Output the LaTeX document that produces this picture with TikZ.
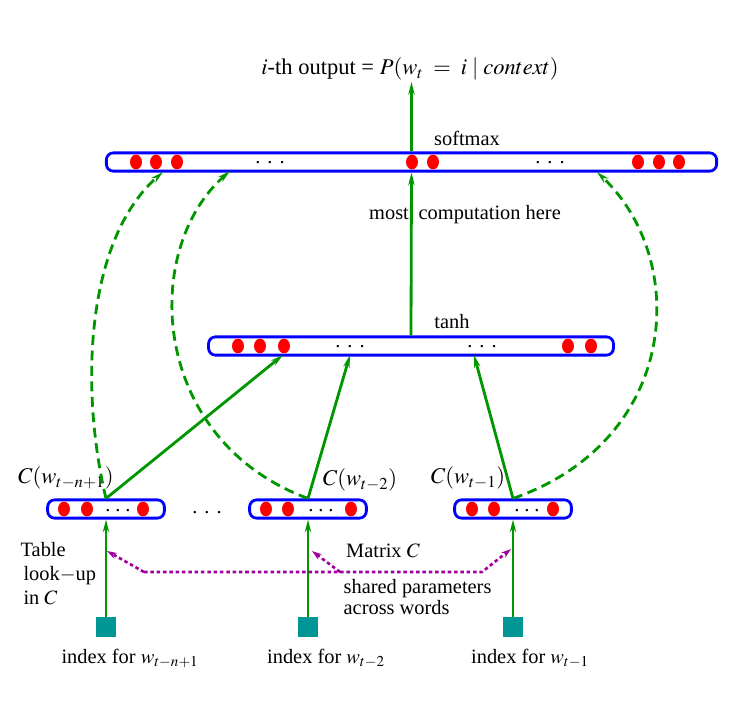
\documentclass[tikz,border=0pt]{standalone}
\usepackage{mathptmx}
\usepackage{fontspec}
\setmainfont{Liberation Serif}
\usetikzlibrary{
    arrows.meta,
    shapes.geometric
}
\definecolor{nnblue}{RGB}{0,0,255}
\definecolor{nnred}{RGB}{255,0,0}
\definecolor{nngreen}{RGB}{0,150,0}
\definecolor{nnteal}{RGB}{0,150,150}
\definecolor{nnpurple}{RGB}{160,0,160}
\newcommand{\gapdots}[1]{.\hspace{#1}.\hspace{#1}.}
\tikzset {
    layer/.style = {draw = nnblue, line width = 2pt, rounded corners = 5pt,
        minimum height = 13pt, inner sep = 0pt},
    unit/.style = {ellipse, fill = nnred, inner sep = 0pt,
        minimum width = 8.5pt, minimum height = 10.5pt},
    index box/.style = {fill = nnteal, minimum size = 14.5pt, inner sep = 0pt},
    flow/.style = {draw = nngreen, line width = 2pt,
        -{Stealth[length = 9pt, width = 4.5pt]}},
    dashed flow/.style = {flow, dash pattern = on 7pt off 4pt},
    shared/.style = {draw = nnpurple, line width = 1.9pt,
        dash pattern = on 2.5pt off 2pt,
        -{Stealth[length = 7pt, width = 4.5pt]}},
    %
    label text/.style = {inner sep = 1pt},
    math text/.style = {inner sep = 1pt, font = \fontsize{16}{18}\selectfont}
}

\begin{document}
\begin{tikzpicture}[x = 0.025cm, y = -0.025cm, font = \fontsize{14.5}{17}\selectfont]
    \useasboundingbox (0, 0) rectangle (732, 700);
    % layers
    \node (softmax) [layer, minimum width = 434pt] at (411.5, 162) {};
    \node (tanh) [layer, minimum width = 288pt] at (411, 346) {};
    \node (c1) [layer, minimum width = 83pt] at (106, 509) {};
    \node (c2) [layer, minimum width = 83pt] at (308, 509) {};
    \node (c3) [layer, minimum width = 83pt] at (513, 509) {};
    % units
    \foreach \x in {136, 156, 177, 412, 433, 638, 659, 679}
        \node [unit] at (\x, 162) {};
    \foreach \x in {238, 260, 284, 568, 591}
        \node [unit] at (\x, 346) {};
    \foreach \x in {64, 87, 143, 266, 288, 351, 472, 494, 553}
        \node [unit] at (\x, 509) {};
    \node (sd1) [inner sep = 0pt] at (270, 163) {\gapdots{5pt}};
    \node (sd2) [inner sep = 0pt] at (550, 163) {\gapdots{5pt}};
    \node (td1) [inner sep = 0pt] at (350, 347) {\gapdots{5pt}};
    \node (td2) [inner sep = 0pt] at (482, 347) {\gapdots{5pt}};
    \node (cd1) [inner sep = 0pt] at (118, 511) {\gapdots{3.5pt}};
    \node (cd2) [inner sep = 0pt] at (321, 511) {\gapdots{3.5pt}};
    \node (cd3) [inner sep = 0pt] at (527, 511) {\gapdots{3.5pt}};
    \node (gap) [inner sep = 0pt] at (207, 513) {\gapdots{5pt}};
    % labels
    \node (title) [math text] at (410, 69) {$i$-th output = $P(w_t\;=\;i\mid context)$};
    \node (smlabel) [label text] at (467, 138) {softmax};
    \node (thlabel) [label text] at (452, 322) {tanh};
    \node (most) [label text] at (465, 215) {most\hspace{7pt}computation here};
    \node (cl1) [math text] at (66, 478) {$C(w_{t-n+1})$};
    \node (cl2) [math text] at (360, 480) {$C(w_{t-2})$};
    \node (cl3) [math text] at (468, 478) {$C(w_{t-1})$};
    \node (lookup) [label text, anchor = north west, align = left] at (19, 541)
        {Table\\\hspace{2pt}look$-$up\\\hspace{2pt}in $C$};
    \node (matrix) [label text] at (383, 551) {Matrix $C$};
    \node (sharedtext) [label text, anchor = north west, align = left,
        font = \fontsize{14.5}{14.5}\selectfont] at (342, 578)
        {shared parameters\\across words};
    % inputs
    \node (x1) [index box] at (106, 627) {};
    \node (x2) [index box] at (308, 627) {};
    \node (x3) [index box] at (513, 627) {};
    \node (il1) [label text] at (130, 658) {index for $w_{t-n+1}$};
    \node (il2) [label text] at (326, 658) {index for $w_{t-2}$};
    \node (il3) [label text] at (530, 658) {index for $w_{t-1}$};
    % arrow ends
    \coordinate (t1) at (283, 355);
    \coordinate (t2) at (350, 355);
    \coordinate (t3) at (474, 355);
    \coordinate (s1) at (163, 172);
    \coordinate (s2) at (230, 171);
    \coordinate (s3) at (597, 172);
    \coordinate (m1) at (107, 551);
    \coordinate (m2) at (312, 551);
    \coordinate (m3) at (511, 549);
    \coordinate (p1) at (144, 572);
    \coordinate (p2) at (340, 572);
    \coordinate (p3) at (482, 572);
    % connections
    \draw [flow] (x1.north) -- (c1.south);
    \draw [flow] (x2.north) -- (c2.south);
    \draw [flow] (x3.north) -- (c3.south);
    \draw [flow] (c1.north) -- (t1);
    \draw [flow] (c2.north) -- (t2);
    \draw [flow] (c3.north) -- (t3);
    \draw [flow] (tanh.north) -- (softmax.south);
    \draw [flow] (softmax.north) -- (title.south -| softmax.north);
    \draw [dashed flow] (c1.north) .. controls (80, 390) and (85, 240) .. (s1);
    \draw [dashed flow] (c2.north) .. controls (150, 440) and (140, 250) .. (s2);
    \draw [dashed flow] (c3.north) .. controls (680, 440) and (690, 260) .. (s3);
    \draw [shared] (p1) -- (m1);
    \draw [shared] (p2) -- (m2);
    \draw [shared] (p1) -- (p3) -- (m3);
\end{tikzpicture}
\end{document}
